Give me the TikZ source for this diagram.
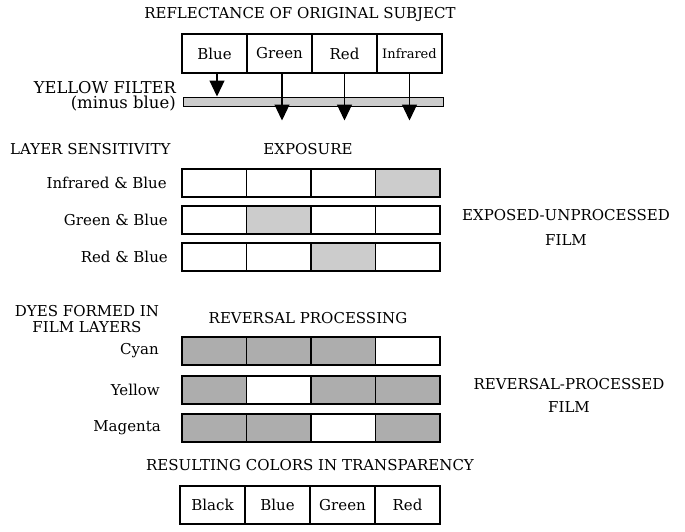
\documentclass[tikz,border=0pt]{standalone}
\usepackage{fontspec}
\setmainfont{DejaVu Serif}
\usetikzlibrary{arrows.meta}
\definecolor{expgray}{gray}{0.80}
\definecolor{revgray}{gray}{0.68}
\definecolor{filtgray}{gray}{0.80}
\begin{document}
\begin{tikzpicture}[x=1pt,y=-1pt,
  txt/.style={font=\fontsize{15}{16}\selectfont, inner sep=0pt},
  lbl/.style={txt, anchor=east},
  cell/.style={draw, line width=1.2pt, minimum width=64.5pt, minimum height=28pt, inner sep=0pt},
  topcell/.style={draw, line width=1.2pt, minimum width=65pt, minimum height=39pt, inner sep=0pt, font=\fontsize{15}{16}\selectfont},
  ex/.style={cell, fill=expgray},
  rv/.style={cell, fill=revgray},
  arr/.style={line width=1.2pt, -{Triangle[width=15pt,length=16pt]}}
]
\useasboundingbox (0,0) rectangle (685,531);

% title
\node[txt] (title) at (300,14) {REFLECTANCE OF ORIGINAL SUBJECT};
\node[topcell] (tb) at (214.5,53.5) {Blue};
\node[topcell] (tg) at (279.5,53.5) {Green};
\node[topcell] (tr) at (344.5,53.5) {Red};
\node[topcell] (ti) at (409.5,53.5) {\fontsize{13}{14}\selectfont Infrared};

% filter
\node[draw, line width=1pt, fill=filtgray, minimum width=260pt, minimum height=9pt, inner sep=0pt] (filter) at (313,101.5) {};
\node[txt, anchor=east, font=\fontsize{16.3}{17}\selectfont] (yf) at (176,88) {YELLOW FILTER};
\node[txt, anchor=east, font=\fontsize{16.5}{17}\selectfont] (mb) at (176,104) {(minus blue)};
\coordinate (fb) at (217,96.5);
\coordinate (fg) at (282,120.5);
\coordinate (fr) at (344.5,120.5);
\coordinate (fi) at (409.5,120.5);
\draw[arr] (tb.south -| fb) -- (fb);
\draw[arr] (tg.south -| fg) -- (fg);
\draw[arr] (tr.south -| fr) -- (fr);
\draw[arr] (ti.south -| fi) -- (fi);

% exposure
\node[txt, anchor=west] (ls) at (10,149) {LAYER SENSITIVITY};
\node[txt] (expo) at (308,149) {EXPOSURE};
\node[lbl] (l1) at (167,183) {Infrared \& Blue};
\node[lbl] (l2) at (168,220) {Green \& Blue};
\node[lbl] (l3) at (168,257) {Red \& Blue};
\foreach \r/\y/\g in {1/183/4, 2/220/2, 3/257/3}{
  \foreach \c in {1,2,3,4}{
    \pgfmathsetmacro\xx{182+64.5*(\c-0.5)}
    \ifnum\c=\g
      \node[ex] (e\r\c) at (\xx,\y) {};
    \else
      \node[cell] (e\r\c) at (\xx,\y) {};
    \fi
  }
}
\node[txt, align=center] (eu) at (566,227.5) {EXPOSED-UNPROCESSED\\[9pt]FILM};

% reversal
\node[txt, align=center] (dy) at (87,319) {DYES FORMED IN\\FILM LAYERS};
\node[txt] (rp) at (308,318) {REVERSAL PROCESSING};
\node[lbl] (lc) at (159,351) {Cyan};
\node[lbl] (ly) at (160,390) {Yellow};
\node[lbl] (lm) at (161,428) {Magenta};
\foreach \r/\y/\w in {1/351/4, 2/390/2, 3/428/3}{
  \foreach \c in {1,2,3,4}{
    \pgfmathsetmacro\xx{182+64.5*(\c-0.5)}
    \ifnum\c=\w
      \node[cell] (r\r\c) at (\xx,\y) {};
    \else
      \node[rv] (r\r\c) at (\xx,\y) {};
    \fi
  }
}
\node[txt, align=center] (rf) at (569,395.5) {REVERSAL-PROCESSED\\[7pt]FILM};

% result
\node[txt] (res) at (310,465) {RESULTING COLORS IN TRANSPARENCY};
\node[topcell, minimum height=38pt] (b1) at (212.5,505) {Black};
\node[topcell, minimum height=38pt] (b2) at (277.5,505) {Blue};
\node[topcell, minimum height=38pt] (b3) at (342.5,505) {Green};
\node[topcell, minimum height=38pt] (b4) at (407.5,505) {Red};
\end{tikzpicture}
\end{document}
